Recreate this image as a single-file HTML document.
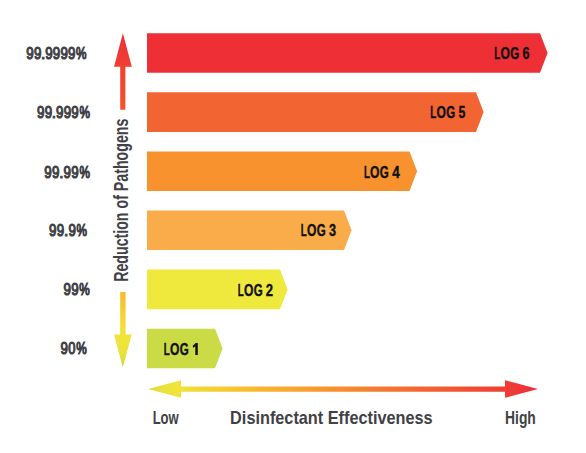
<!DOCTYPE html>
<html><head><meta charset="utf-8">
<style>
html,body{margin:0;padding:0;background:#fff;overflow:hidden;}
svg{display:block;}
text{font-family:"Liberation Sans",sans-serif;font-weight:bold;}
</style></head>
<body>
<svg width="586" height="453" viewBox="0 0 586 453">
<defs>
<linearGradient id="vg" x1="0" y1="33" x2="0" y2="368" gradientUnits="userSpaceOnUse">
<stop offset="0" stop-color="#EE2F36"/>
<stop offset="0.25" stop-color="#F15A2C"/>
<stop offset="0.5" stop-color="#F6962F"/>
<stop offset="0.77" stop-color="#F8BA2F"/>
<stop offset="0.88" stop-color="#F2DF38"/>
<stop offset="0.92" stop-color="#F0E43A"/>
<stop offset="0.96" stop-color="#E8E23A"/>
<stop offset="1" stop-color="#C8D83A"/>
</linearGradient>
<linearGradient id="hg" x1="148" y1="0" x2="538" y2="0" gradientUnits="userSpaceOnUse">
<stop offset="0" stop-color="#DCE03A"/>
<stop offset="0.07" stop-color="#F0E43A"/>
<stop offset="0.25" stop-color="#F8BE2E"/>
<stop offset="0.45" stop-color="#F7962F"/>
<stop offset="0.7" stop-color="#F26532"/>
<stop offset="1" stop-color="#EE2F36"/>
</linearGradient>
</defs>
<polygon points="147,33.2 540,33.2 547.6,53.0 540,72.8 147,72.8" fill="#EE2F36"/>
<polygon points="147,92.3 476,92.3 483.6,112.1 476,131.9 147,131.9" fill="#F26532"/>
<polygon points="147,151.4 409.5,151.4 417.1,171.2 409.5,191.0 147,191.0" fill="#F7922F"/>
<polygon points="147,210.5 344,210.5 351.6,230.3 344,250.1 147,250.1" fill="#FAAB4A"/>
<polygon points="147,269.6 280,269.6 287.6,289.4 280,309.2 147,309.2" fill="#EFE83D"/>
<polygon points="147,328.7 215,328.7 222.6,348.5 215,368.3 147,368.3" fill="#CBDB45"/>
<text transform="translate(494.35,58.80) scale(0.4872,0.8576)" font-size="20.0" fill="#111111" stroke="#111111" stroke-width="0.521">L</text>
<text transform="translate(500.50,58.80) scale(0.6045,0.8333)" font-size="20.0" fill="#111111" stroke="#111111" stroke-width="0.487">O</text>
<text transform="translate(510.23,58.80) scale(0.5779,0.8333)" font-size="20.0" fill="#111111" stroke="#111111" stroke-width="0.496">G</text>
<text transform="translate(522.44,58.80) scale(0.6309,0.8333)" font-size="20.0" fill="#111111" stroke="#111111" stroke-width="0.478">6</text>
<text transform="translate(430.35,117.90) scale(0.4872,0.8576)" font-size="20.0" fill="#111111" stroke="#111111" stroke-width="0.521">L</text>
<text transform="translate(436.50,117.90) scale(0.6045,0.8333)" font-size="20.0" fill="#111111" stroke="#111111" stroke-width="0.487">O</text>
<text transform="translate(446.23,117.90) scale(0.5779,0.8333)" font-size="20.0" fill="#111111" stroke="#111111" stroke-width="0.496">G</text>
<text transform="translate(458.52,117.90) scale(0.6130,0.8333)" font-size="20.0" fill="#111111" stroke="#111111" stroke-width="0.484">5</text>
<text transform="translate(363.95,177.90) scale(0.4872,0.8576)" font-size="20.0" fill="#111111" stroke="#111111" stroke-width="0.521">L</text>
<text transform="translate(370.10,177.90) scale(0.6045,0.8333)" font-size="20.0" fill="#111111" stroke="#111111" stroke-width="0.487">O</text>
<text transform="translate(379.83,177.90) scale(0.5779,0.8333)" font-size="20.0" fill="#111111" stroke="#111111" stroke-width="0.496">G</text>
<text transform="translate(392.30,177.90) scale(0.6721,0.8576)" font-size="20.0" fill="#111111" stroke="#111111" stroke-width="0.458">4</text>
<text transform="translate(300.75,235.90) scale(0.4872,0.8576)" font-size="20.0" fill="#111111" stroke="#111111" stroke-width="0.521">L</text>
<text transform="translate(306.90,235.90) scale(0.6045,0.8333)" font-size="20.0" fill="#111111" stroke="#111111" stroke-width="0.487">O</text>
<text transform="translate(316.63,235.90) scale(0.5779,0.8333)" font-size="20.0" fill="#111111" stroke="#111111" stroke-width="0.496">G</text>
<text transform="translate(329.01,235.90) scale(0.6337,0.8333)" font-size="20.0" fill="#111111" stroke="#111111" stroke-width="0.477">3</text>
<text transform="translate(237.75,295.80) scale(0.4872,0.8576)" font-size="20.0" fill="#111111" stroke="#111111" stroke-width="0.521">L</text>
<text transform="translate(243.90,295.80) scale(0.6045,0.8333)" font-size="20.0" fill="#111111" stroke="#111111" stroke-width="0.487">O</text>
<text transform="translate(253.63,295.80) scale(0.5779,0.8333)" font-size="20.0" fill="#111111" stroke="#111111" stroke-width="0.496">G</text>
<text transform="translate(265.85,295.80) scale(0.6543,0.8333)" font-size="20.0" fill="#111111" stroke="#111111" stroke-width="0.471">2</text>
<text transform="translate(163.75,354.80) scale(0.4872,0.8576)" font-size="20.0" fill="#111111" stroke="#111111" stroke-width="0.521">L</text>
<text transform="translate(169.90,354.80) scale(0.6045,0.8333)" font-size="20.0" fill="#111111" stroke="#111111" stroke-width="0.487">O</text>
<text transform="translate(179.63,354.80) scale(0.5779,0.8333)" font-size="20.0" fill="#111111" stroke="#111111" stroke-width="0.496">G</text>
<polygon points="195.7,343.1 197.8,343.1 197.8,354.9 195.3,354.9 195.3,346.5 193.3,347.7 192.6,345.9" fill="#111111"/>
<text transform="translate(26.29,59.40) scale(0.6668,0.7839)" font-size="20.0" fill="#414146" stroke="#414146" stroke-width="1.379" style="font-weight:normal">9</text>
<text transform="translate(33.89,59.40) scale(0.6668,0.7839)" font-size="20.0" fill="#414146" stroke="#414146" stroke-width="1.379" style="font-weight:normal">9</text>
<text transform="translate(41.02,59.40) scale(0.7667,0.7839)" font-size="20.0" fill="#414146" stroke="#414146" stroke-width="1.290" style="font-weight:normal">.</text>
<text transform="translate(45.19,59.40) scale(0.6668,0.7839)" font-size="20.0" fill="#414146" stroke="#414146" stroke-width="1.379" style="font-weight:normal">9</text>
<text transform="translate(52.79,59.40) scale(0.6668,0.7839)" font-size="20.0" fill="#414146" stroke="#414146" stroke-width="1.379" style="font-weight:normal">9</text>
<text transform="translate(60.39,59.40) scale(0.6668,0.7839)" font-size="20.0" fill="#414146" stroke="#414146" stroke-width="1.379" style="font-weight:normal">9</text>
<text transform="translate(67.99,59.40) scale(0.6668,0.7839)" font-size="20.0" fill="#414146" stroke="#414146" stroke-width="1.379" style="font-weight:normal">9</text>
<text transform="translate(76.00,59.40) scale(0.5906,0.7839)" font-size="20.0" fill="#414146" stroke="#414146" stroke-width="1.455" style="font-weight:normal">%</text>
<text transform="translate(36.99,118.20) scale(0.6668,0.7839)" font-size="20.0" fill="#414146" stroke="#414146" stroke-width="1.379" style="font-weight:normal">9</text>
<text transform="translate(44.63,118.20) scale(0.6668,0.7839)" font-size="20.0" fill="#414146" stroke="#414146" stroke-width="1.379" style="font-weight:normal">9</text>
<text transform="translate(51.82,118.20) scale(0.7667,0.7839)" font-size="20.0" fill="#414146" stroke="#414146" stroke-width="1.290" style="font-weight:normal">.</text>
<text transform="translate(56.06,118.20) scale(0.6668,0.7839)" font-size="20.0" fill="#414146" stroke="#414146" stroke-width="1.379" style="font-weight:normal">9</text>
<text transform="translate(63.70,118.20) scale(0.6668,0.7839)" font-size="20.0" fill="#414146" stroke="#414146" stroke-width="1.379" style="font-weight:normal">9</text>
<text transform="translate(71.34,118.20) scale(0.6668,0.7839)" font-size="20.0" fill="#414146" stroke="#414146" stroke-width="1.379" style="font-weight:normal">9</text>
<text transform="translate(79.40,118.20) scale(0.5906,0.7839)" font-size="20.0" fill="#414146" stroke="#414146" stroke-width="1.455" style="font-weight:normal">%</text>
<text transform="translate(44.19,177.60) scale(0.6668,0.7839)" font-size="20.0" fill="#414146" stroke="#414146" stroke-width="1.379" style="font-weight:normal">9</text>
<text transform="translate(51.90,177.60) scale(0.6668,0.7839)" font-size="20.0" fill="#414146" stroke="#414146" stroke-width="1.379" style="font-weight:normal">9</text>
<text transform="translate(59.18,177.60) scale(0.7667,0.7839)" font-size="20.0" fill="#414146" stroke="#414146" stroke-width="1.290" style="font-weight:normal">.</text>
<text transform="translate(63.55,177.60) scale(0.6668,0.7839)" font-size="20.0" fill="#414146" stroke="#414146" stroke-width="1.379" style="font-weight:normal">9</text>
<text transform="translate(71.25,177.60) scale(0.6668,0.7839)" font-size="20.0" fill="#414146" stroke="#414146" stroke-width="1.379" style="font-weight:normal">9</text>
<text transform="translate(79.40,177.60) scale(0.5906,0.7839)" font-size="20.0" fill="#414146" stroke="#414146" stroke-width="1.455" style="font-weight:normal">%</text>
<text transform="translate(48.89,235.60) scale(0.6668,0.7839)" font-size="20.0" fill="#414146" stroke="#414146" stroke-width="1.379" style="font-weight:normal">9</text>
<text transform="translate(56.64,235.60) scale(0.6668,0.7839)" font-size="20.0" fill="#414146" stroke="#414146" stroke-width="1.379" style="font-weight:normal">9</text>
<text transform="translate(63.97,235.60) scale(0.7667,0.7839)" font-size="20.0" fill="#414146" stroke="#414146" stroke-width="1.290" style="font-weight:normal">.</text>
<text transform="translate(68.41,235.60) scale(0.6668,0.7839)" font-size="20.0" fill="#414146" stroke="#414146" stroke-width="1.379" style="font-weight:normal">9</text>
<text transform="translate(76.60,235.60) scale(0.5906,0.7839)" font-size="20.0" fill="#414146" stroke="#414146" stroke-width="1.455" style="font-weight:normal">%</text>
<text transform="translate(63.59,294.50) scale(0.6668,0.7839)" font-size="20.0" fill="#414146" stroke="#414146" stroke-width="1.379" style="font-weight:normal">9</text>
<text transform="translate(71.24,294.50) scale(0.6668,0.7839)" font-size="20.0" fill="#414146" stroke="#414146" stroke-width="1.379" style="font-weight:normal">9</text>
<text transform="translate(79.30,294.50) scale(0.5906,0.7839)" font-size="20.0" fill="#414146" stroke="#414146" stroke-width="1.455" style="font-weight:normal">%</text>
<text transform="translate(60.59,353.50) scale(0.6668,0.7839)" font-size="20.0" fill="#414146" stroke="#414146" stroke-width="1.379" style="font-weight:normal">9</text>
<text transform="translate(68.36,353.50) scale(0.6443,0.7839)" font-size="20.0" fill="#414146" stroke="#414146" stroke-width="1.400" style="font-weight:normal">0</text>
<text transform="translate(76.30,353.50) scale(0.5906,0.7839)" font-size="20.0" fill="#414146" stroke="#414146" stroke-width="1.455" style="font-weight:normal">%</text>
<polygon points="122.9,33.2 131.8,66.7 125.4,66.7 125.4,109.7 120.2,109.7 120.2,66.7 114,66.7" fill="url(#vg)"/>
<polygon points="120.2,292 125.6,292 125.6,334.6 131.7,334.6 122.8,367.4 114.1,334.6 120.2,334.6" fill="url(#vg)"/>
<g transform="translate(127.5,280.9) rotate(-90)"><text transform="translate(-0.95,0.00) scale(0.7101,0.9739)" font-size="20.0" fill="#414146">Reduction of Pathogens</text></g>
<polygon points="148,389 181,380.2 181,386.6 505,386.6 505,380.2 538,389 505,397.8 505,391.7 181,391.7 181,397.8" fill="url(#hg)"/>
<text transform="translate(152.63,423.50) scale(0.6539,0.9084)" font-size="20.0" fill="#414146">Low</text>
<text transform="translate(230.11,423.50) scale(0.8140,0.9084)" font-size="20.0" fill="#414146">Disinfectant Effectiveness</text>
<text transform="translate(505.07,423.50) scale(0.6929,0.9084)" font-size="20.0" fill="#414146">High</text>
</svg>
</body></html>
